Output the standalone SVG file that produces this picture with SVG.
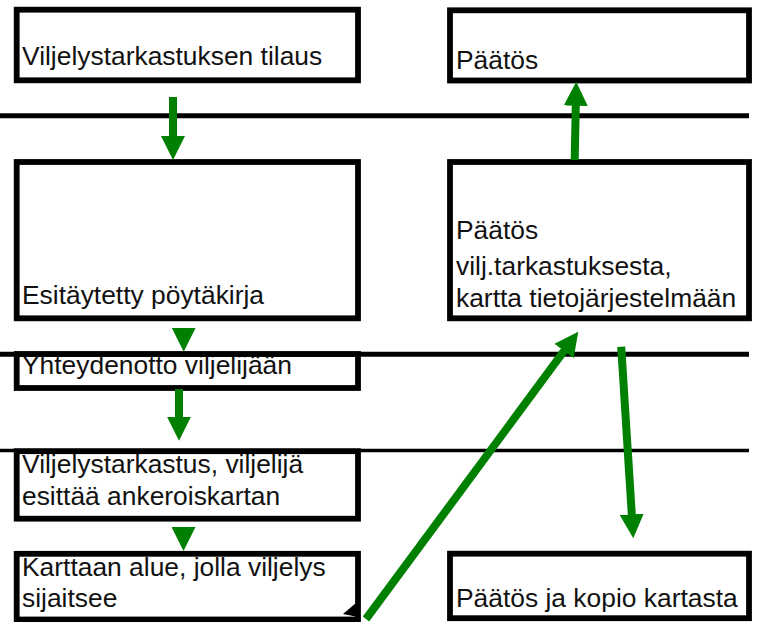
<svg xmlns="http://www.w3.org/2000/svg" width="758" height="622" viewBox="0 0 758 622">
<style>
.box{fill:#fff;stroke:#000;stroke-width:5.8}
.lane{stroke:#000;fill:none}
.lbl{font-family:"Liberation Sans",Arial,sans-serif;font-size:26.4px;fill:#111}
.flow{stroke:#008000;stroke-width:8;fill:none;marker-end:url(#ah)}
</style>
<defs>
<marker id="ah" markerUnits="userSpaceOnUse" markerWidth="24" markerHeight="24" viewBox="0 0 24 24" refX="2" refY="12" orient="auto">
<path d="M0,0 L24,12 L0,24 z" fill="#008000"/>
</marker>
</defs>
<g id="n1"><rect class="box" x="16.7" y="9.7" width="341.3" height="70.6"/><text class="lbl" x="22" y="65">Viljelystarkastuksen tilaus</text></g>
<g id="n2"><rect class="box" x="16.7" y="162" width="341.3" height="156.3"/><text class="lbl" x="22" y="304">Esitäytetty pöytäkirja</text></g>
<g id="n3"><rect class="box" x="16.7" y="354" width="341.3" height="34"/><text class="lbl" x="22" y="374">Yhteydenotto viljelijään</text></g>
<g id="n4"><rect class="box" x="16.7" y="451.2" width="341.3" height="67.5"/><text class="lbl" x="22" y="473.3">Viljelystarkastus, viljelijä</text><text class="lbl" x="22" y="505">esittää ankeroiskartan</text></g>
<g id="n5"><rect class="box" x="16.7" y="553.8" width="341.3" height="65.7"/><text class="lbl" x="22" y="576">Karttaan alue, jolla viljelys</text><text class="lbl" x="22" y="606.7">sijaitsee</text><polygon points="343,614 356,603 358,617" fill="#000"/></g>
<g id="n6"><rect class="box" x="450" y="10.3" width="299" height="70.2"/><text class="lbl" x="456" y="69">Päätös</text></g>
<g id="n7"><rect class="box" x="450" y="162" width="299" height="156.3"/><text class="lbl" x="456" y="239.3">Päätös</text><text class="lbl" x="456" y="275">vilj.tarkastuksesta,</text><text class="lbl" x="456" y="306.7">kartta tietojärjestelmään</text></g>
<g id="n8"><rect class="box" x="450" y="553.7" width="299" height="64.5"/><text class="lbl" x="456" y="606.7">Päätös ja kopio kartasta</text></g>
<g id="lanes">
<line class="lane" x1="0" y1="115.8" x2="749" y2="115.8" stroke-width="5"/>
<line class="lane" x1="0" y1="354.2" x2="749" y2="354.2" stroke-width="5"/>
<line class="lane" x1="0" y1="450.5" x2="749" y2="450.5" stroke-width="3.5"/>
</g>
<g id="connectors">
<path class="flow" d="M173,97 L173,138"/>
<path class="flow" d="M183.7,328 L183.7,329.7"/>
<path class="flow" d="M179,389 L179,418.7"/>
<path class="flow" d="M183.5,527 L183.5,529"/>
<path class="flow" d="M574.7,160 L575.8,103.7"/>
<path class="flow" d="M366,619 L565.2,349.4"/>
<path class="flow" d="M621.2,346.7 L631.9,516.3"/>
</g>
</svg>
